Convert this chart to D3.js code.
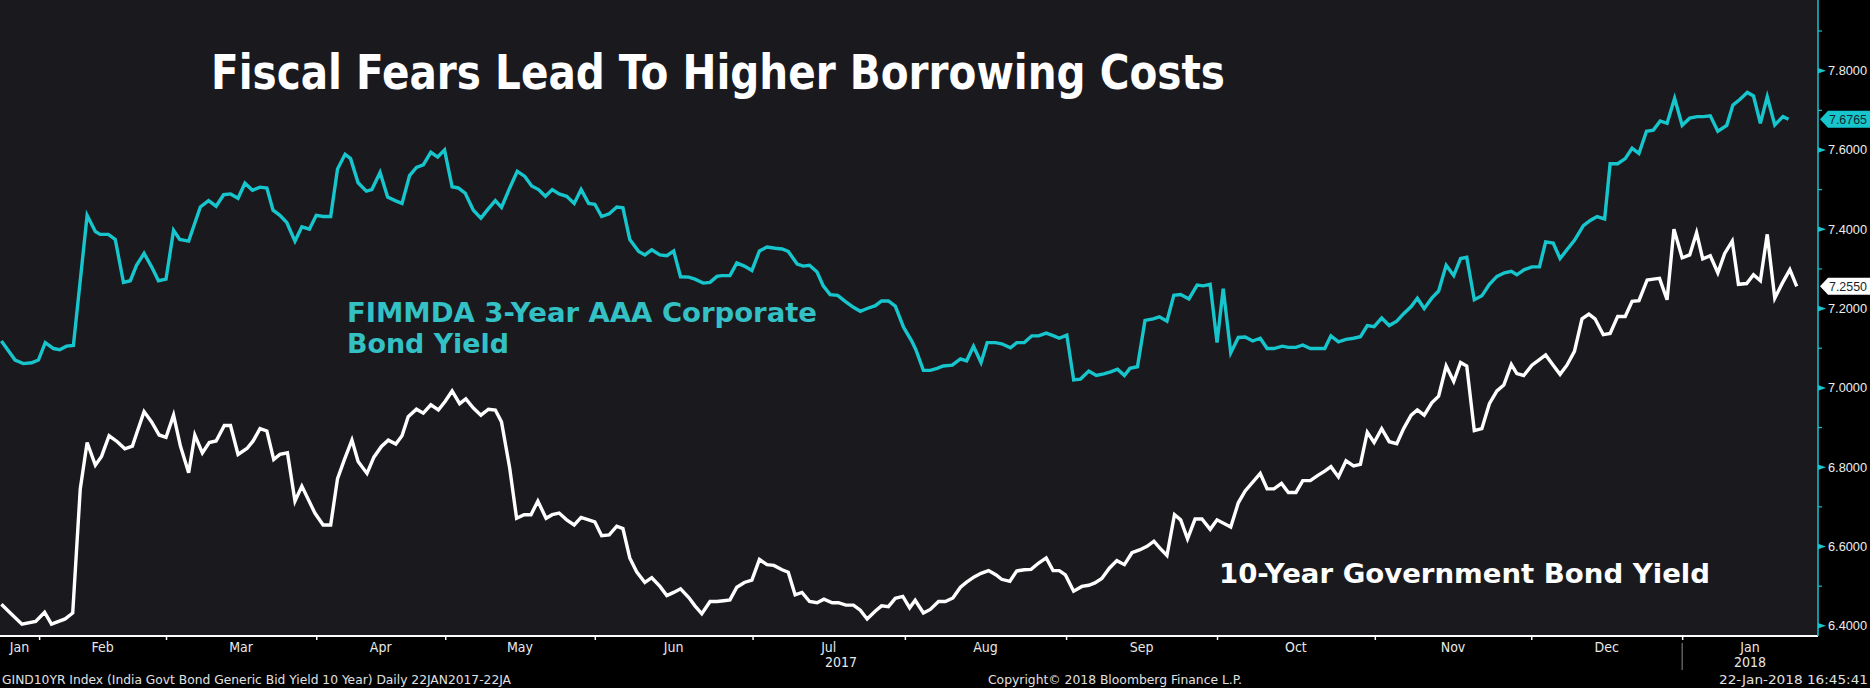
<!DOCTYPE html>
<html>
<head>
<meta charset="utf-8">
<script src="https://cdnjs.cloudflare.com/ajax/libs/d3/7.8.5/d3.min.js"></script>
<style>
  html, body { margin: 0; padding: 0; background: #000; }
  svg { display: block; }
</style>
</head>
<body>
<svg id="chart"></svg>
<script>
/* ===============================
   Data (trading-day index, yield %)
================================ */

// FIMMDA 3-Year AAA Corporate Bond Yield
const corpDays = [
  0.2, 2.2, 3.4, 4.6, 5.6, 6.6, 7.8, 8.7, 9.7, 10.7, 12.7, 13.9, 14.6, 15.8, 16.8, 18.0, 19.0, 19.9, 21.0, 22.1,
  23.1, 24.2, 25.3, 26.2, 27.5, 29.2, 30.4, 31.5, 32.6, 33.6, 34.7, 35.7, 36.8, 37.9, 38.9, 39.8, 40.8, 41.8, 43.0, 44.0,
  45.1, 46.1, 47.1, 48.2, 49.2, 50.3, 51.1, 52.2, 53.4, 54.2, 55.4, 56.5, 57.6, 58.6, 59.7, 60.7, 61.7, 62.8, 63.8, 64.8,
  65.9, 66.8, 67.8, 69.0, 70.1, 71.2, 72.2, 73.1, 74.3, 75.4, 76.5, 77.5, 78.5, 79.5, 80.5, 81.5, 82.6, 83.7, 84.7, 85.8,
  86.7, 87.7, 88.8, 89.9, 90.8, 91.8, 93.1, 94.0, 95.0, 96.2, 97.2, 98.2, 99.2, 100.4, 101.3, 102.5, 103.5, 104.5, 105.2, 106.4,
  107.4, 108.5, 109.6, 110.7, 111.8, 113.0, 114.0, 114.9, 116.2, 117.1, 118.0, 119.1, 120.0, 121.0, 122.1, 123.2, 124.4, 125.4, 126.4, 127.6,
  128.5, 129.5, 130.5, 131.7, 132.9, 133.5, 134.6, 135.6, 136.6, 137.5, 138.8, 140.0, 140.9, 141.9, 143.0, 143.9, 145.1, 146.0, 147.3, 148.2,
  149.3, 150.4, 151.4, 152.5, 153.6, 154.4, 155.5, 156.5, 157.5, 158.7, 159.8, 160.9, 161.9, 162.9, 163.9, 164.7, 165.8, 166.9, 168.1, 169.0,
  170.1, 171.1, 172.1, 173.3, 174.5, 175.4, 176.4, 177.4, 178.3, 179.4, 180.5, 181.5, 182.6, 183.7, 184.7, 185.7, 186.9, 187.8, 188.9, 189.9,
  191.0, 192.1, 193.1, 194.0, 195.1, 196.2, 197.3, 198.3, 199.3, 200.3, 201.4, 202.5, 203.6, 204.6, 205.7, 206.6, 207.6, 208.7, 209.7, 210.8,
  211.9, 212.9, 213.8, 214.9, 216.0, 217.1, 218.2, 219.3, 220.3, 221.1, 222.2, 223.3, 224.4, 225.3, 226.4, 227.4, 228.4, 229.5, 230.8, 231.8,
  232.8, 233.9, 234.7, 235.8, 236.9, 237.9, 238.9, 240.0, 241.0, 242.0, 243.0, 244.1, 245.2, 246.3, 247.4, 248.3, 249.3, 250.4, 251.7, 252.6,
  253.6, 254.7, 255.6, 256.6, 257.6, 258.7, 259.9, 260.7
];
const corpYield = [
  7.117, 7.069, 7.060, 7.062, 7.069, 7.113, 7.098, 7.095, 7.104, 7.106, 7.434, 7.393, 7.386, 7.386, 7.373, 7.265, 7.269, 7.308, 7.338, 7.304,
  7.269, 7.273, 7.396, 7.373, 7.369, 7.455, 7.471, 7.457, 7.486, 7.488, 7.477, 7.515, 7.497, 7.505, 7.503, 7.447, 7.434, 7.416, 7.369, 7.405,
  7.399, 7.434, 7.431, 7.431, 7.551, 7.588, 7.577, 7.516, 7.495, 7.499, 7.542, 7.480, 7.471, 7.464, 7.534, 7.555, 7.561, 7.593, 7.581, 7.599,
  7.506, 7.503, 7.490, 7.447, 7.427, 7.451, 7.471, 7.454, 7.503, 7.545, 7.532, 7.508, 7.499, 7.482, 7.499, 7.488, 7.482, 7.464, 7.499, 7.464,
  7.462, 7.431, 7.438, 7.455, 7.453, 7.373, 7.343, 7.334, 7.347, 7.334, 7.332, 7.344, 7.279, 7.278, 7.273, 7.263, 7.265, 7.280, 7.282, 7.282,
  7.314, 7.306, 7.295, 7.344, 7.354, 7.351, 7.349, 7.343, 7.311, 7.306, 7.308, 7.291, 7.256, 7.234, 7.232, 7.217, 7.202, 7.192, 7.199, 7.206,
  7.218, 7.218, 7.205, 7.152, 7.117, 7.095, 7.043, 7.043, 7.048, 7.054, 7.056, 7.072, 7.067, 7.104, 7.063, 7.113, 7.113, 7.110, 7.100, 7.113,
  7.113, 7.130, 7.130, 7.137, 7.130, 7.124, 7.132, 7.019, 7.021, 7.041, 7.030, 7.034, 7.039, 7.046, 7.030, 7.048, 7.052, 7.169, 7.173, 7.178,
  7.167, 7.232, 7.234, 7.223, 7.258, 7.256, 7.260, 7.113, 7.249, 7.087, 7.126, 7.127, 7.117, 7.124, 7.098, 7.098, 7.104, 7.101, 7.101, 7.107,
  7.098, 7.098, 7.098, 7.130, 7.115, 7.121, 7.124, 7.128, 7.156, 7.153, 7.175, 7.156, 7.167, 7.186, 7.204, 7.225, 7.199, 7.225, 7.243, 7.308,
  7.282, 7.325, 7.328, 7.221, 7.231, 7.260, 7.280, 7.289, 7.293, 7.284, 7.297, 7.304, 7.304, 7.367, 7.364, 7.325, 7.347, 7.371, 7.408, 7.421,
  7.431, 7.425, 7.564, 7.564, 7.577, 7.603, 7.590, 7.646, 7.649, 7.672, 7.666, 7.729, 7.661, 7.679, 7.683, 7.683, 7.685, 7.646, 7.661, 7.712,
  7.726, 7.744, 7.735, 7.666, 7.733, 7.662, 7.683, 7.6765
];

// India 10-Year Government Bond Yield
const govtDays = [
  0.2, 1.5, 3.2, 5.2, 6.5, 7.5, 9.5, 10.6, 11.7, 12.7, 13.9, 14.8, 15.9, 17.1, 18.2, 19.3, 19.9, 21.0, 22.1, 23.2,
  24.2, 25.3, 26.3, 27.5, 28.4, 29.5, 30.5, 31.5, 32.7, 33.6, 34.7, 36.0, 36.9, 37.9, 38.9, 39.9, 40.8, 41.9, 43.0, 44.0,
  45.9, 47.1, 48.2, 49.2, 50.2, 51.3, 52.2, 53.5, 54.5, 55.6, 56.6, 57.7, 58.6, 59.5, 60.7, 61.7, 62.8, 63.9, 64.9, 65.9,
  67.0, 67.9, 69.0, 70.1, 71.2, 72.2, 73.1, 74.3, 75.3, 76.4, 77.4, 78.4, 79.6, 80.5, 81.5, 82.6, 83.7, 84.7, 85.8, 86.7,
  87.7, 88.8, 89.9, 90.8, 91.8, 92.8, 94.0, 95.0, 96.2, 97.2, 98.2, 99.2, 100.4, 101.3, 102.3, 103.5, 104.5, 105.5, 106.4, 107.4,
  108.5, 109.6, 110.7, 111.8, 112.8, 114.0, 114.9, 115.9, 116.9, 118.0, 119.1, 120.1, 121.3, 122.2, 123.3, 124.4, 125.4, 126.4, 127.6, 128.5,
  129.5, 130.5, 131.6, 132.6, 133.4, 134.6, 135.6, 136.8, 137.8, 138.9, 140.0, 140.9, 142.0, 143.0, 144.1, 145.2, 146.0, 147.2, 148.2, 149.3,
  150.3, 151.4, 152.5, 153.5, 154.4, 155.3, 156.5, 157.7, 158.7, 159.6, 160.6, 161.7, 162.8, 163.9, 165.0, 166.1, 167.2, 168.2, 169.1, 170.1,
  171.2, 172.1, 173.1, 174.2, 175.2, 176.4, 177.4, 179.4, 180.5, 181.5, 183.7, 184.7, 185.7, 186.8, 187.8, 188.9, 189.9, 191.0, 192.1, 193.1,
  194.0, 195.1, 196.2, 197.3, 198.3, 199.3, 200.3, 201.4, 202.5, 203.6, 204.6, 205.7, 206.6, 207.6, 208.7, 209.7, 210.8, 211.9, 212.9, 213.8,
  214.9, 216.0, 217.1, 218.2, 219.2, 220.3, 221.1, 222.1, 223.3, 224.3, 225.3, 226.4, 227.4, 228.4, 229.5, 230.6, 231.6, 232.5, 233.7, 234.7,
  235.8, 236.9, 237.9, 238.9, 240.1, 241.0, 241.9, 243.0, 244.0, 245.2, 246.3, 247.3, 248.2, 249.3, 250.4, 251.4, 252.5, 253.4, 254.6, 255.6,
  256.6, 257.6, 258.7, 259.8, 260.9, 261.9
];
const govtYield = [
  6.453, 6.431, 6.403, 6.410, 6.433, 6.403, 6.416, 6.431, 6.744, 6.861, 6.804, 6.826, 6.878, 6.863, 6.845, 6.852, 6.883, 6.939, 6.913, 6.880,
  6.874, 6.930, 6.852, 6.785, 6.880, 6.835, 6.861, 6.865, 6.904, 6.904, 6.831, 6.846, 6.865, 6.896, 6.890, 6.818, 6.831, 6.835, 6.713, 6.751,
  6.683, 6.653, 6.653, 6.770, 6.818, 6.867, 6.813, 6.783, 6.824, 6.851, 6.867, 6.857, 6.878, 6.926, 6.945, 6.935, 6.956, 6.943, 6.965, 6.991,
  6.959, 6.971, 6.948, 6.930, 6.945, 6.943, 6.913, 6.796, 6.670, 6.679, 6.679, 6.713, 6.670, 6.679, 6.683, 6.666, 6.653, 6.672, 6.666, 6.661,
  6.626, 6.628, 6.650, 6.644, 6.570, 6.535, 6.508, 6.520, 6.498, 6.475, 6.483, 6.492, 6.470, 6.449, 6.429, 6.460, 6.460, 6.462, 6.464, 6.496,
  6.508, 6.514, 6.566, 6.553, 6.551, 6.540, 6.534, 6.477, 6.483, 6.460, 6.457, 6.466, 6.457, 6.457, 6.451, 6.451, 6.438, 6.416, 6.436, 6.449,
  6.447, 6.468, 6.473, 6.444, 6.463, 6.431, 6.440, 6.460, 6.460, 6.469, 6.496, 6.509, 6.522, 6.531, 6.538, 6.527, 6.516, 6.511, 6.537, 6.540,
  6.541, 6.557, 6.570, 6.538, 6.538, 6.527, 6.486, 6.498, 6.501, 6.507, 6.518, 6.544, 6.563, 6.553, 6.583, 6.590, 6.599, 6.612, 6.594, 6.576,
  6.679, 6.666, 6.618, 6.668, 6.668, 6.642, 6.666, 6.648, 6.709, 6.739, 6.783, 6.744, 6.744, 6.758, 6.735, 6.735, 6.765, 6.765, 6.778, 6.789,
  6.800, 6.774, 6.815, 6.802, 6.806, 6.887, 6.861, 6.896, 6.863, 6.858, 6.896, 6.930, 6.943, 6.930, 6.961, 6.978, 7.054, 7.015, 7.063, 7.054,
  6.891, 6.896, 6.959, 6.991, 7.006, 7.058, 7.035, 7.030, 7.056, 7.069, 7.082, 7.056, 7.033, 7.056, 7.091, 7.173, 7.185, 7.173, 7.133, 7.136,
  7.179, 7.179, 7.217, 7.219, 7.271, 7.273, 7.275, 7.221, 7.399, 7.327, 7.334, 7.390, 7.324, 7.332, 7.289, 7.338, 7.369, 7.260, 7.262, 7.284,
  7.269, 7.386, 7.225, 7.263, 7.297, 7.255
];

// x axis: month boundaries (trading-day index) and labels
const monthStarts = [5.7, 24.2, 46.1, 64.9, 86.7, 109.7, 131.9, 155.4, 177.4, 200.4, 223.2, 245.2];
const monthLabels = ["Jan", "Feb", "Mar", "Apr", "May", "Jun", "Jul", "Aug", "Sep", "Oct", "Nov", "Dec", "Jan"];
const yearLabels = ["2017", "2018"];
const dayDomain = [0, 265];

// y axis
const yMajorTicks = [6.4, 6.6, 6.8, 7.0, 7.2, 7.4, 7.6, 7.8];
const yMinorTicks = [6.5, 6.7, 6.9, 7.1, 7.3, 7.5, 7.7, 7.9];

const lastCorp = corpYield[corpYield.length - 1];
const lastGovt = govtYield[govtYield.length - 1];

/* ===============================
   Layout & colours
================================ */

const W = 1870, H = 688;
const plotW = 1818, plotH = 636;
const TEAL = "#17c5cd";
const TEAL_TEXT = "#33c1c6";
const PLOT_BG = "#1a1a1e";
const NARROW = "'Liberation Sans Narrow', 'DejaVu Sans Condensed', sans-serif";
const PLAIN = "'Liberation Sans', Arial, sans-serif";
const BOLD = "'DejaVu Sans', Verdana, sans-serif";
const BOLD_CONDENSED = "'DejaVu Sans Condensed', 'DejaVu Sans', sans-serif";

const svg = d3.select("#chart")
  .attr("width", W)
  .attr("height", H)
  .style("background", "#000");

const x = d3.scaleLinear().domain(dayDomain).range([0, plotW]);
const y = d3.scaleLinear().domain([6.4, 7.8]).range([625.3, 70.2]);

svg.append("rect")
  .attr("width", plotW)
  .attr("height", plotH)
  .attr("fill", PLOT_BG);

svg.append("clipPath").attr("id", "plotClip")
  .append("rect").attr("width", plotW).attr("height", plotH);

/* -------- TITLE & ANNOTATIONS -------- */

svg.append("text")
  .attr("x", 211).attr("y", 89)
  .attr("font-family", BOLD_CONDENSED)
  .attr("font-weight", "bold")
  .attr("font-size", 48)
  .attr("fill", "#ffffff")
  .attr("textLength", 1014)
  .attr("lengthAdjust", "spacingAndGlyphs")
  .text("Fiscal Fears Lead To Higher Borrowing Costs");

const corpNote = svg.append("g")
  .attr("font-family", BOLD)
  .attr("font-weight", "bold")
  .attr("font-size", 26)
  .attr("fill", TEAL_TEXT);

corpNote.append("text")
  .attr("x", 347).attr("y", 322)
  .attr("textLength", 470).attr("lengthAdjust", "spacingAndGlyphs")
  .text("FIMMDA 3-Year AAA Corporate");

corpNote.append("text")
  .attr("x", 347).attr("y", 353)
  .attr("textLength", 162).attr("lengthAdjust", "spacingAndGlyphs")
  .text("Bond Yield");

svg.append("text")
  .attr("x", 1219).attr("y", 583)
  .attr("font-family", BOLD)
  .attr("font-weight", "bold")
  .attr("font-size", 27)
  .attr("fill", "#ffffff")
  .attr("textLength", 491).attr("lengthAdjust", "spacingAndGlyphs")
  .text("10-Year Government Bond Yield");

/* -------- LINES -------- */

const line = d3.line()
  .x(d => x(d[0]))
  .y(d => y(d[1]));

const lines = svg.append("g").attr("clip-path", "url(#plotClip)");

lines.append("path")
  .datum(d3.zip(govtDays, govtYield))
  .attr("d", line)
  .attr("fill", "none")
  .attr("stroke", "#ffffff")
  .attr("stroke-width", 3.4)
  .attr("stroke-linejoin", "miter");

lines.append("path")
  .datum(d3.zip(corpDays, corpYield))
  .attr("d", line)
  .attr("fill", "none")
  .attr("stroke", TEAL)
  .attr("stroke-width", 3.4)
  .attr("stroke-linejoin", "miter");

/* -------- X AXIS -------- */

const xAxis = svg.append("g")
  .attr("transform", `translate(0,${plotH})`)
  .call(d3.axisBottom(x).tickValues(monthStarts).tickSize(4).tickSizeOuter(0).tickFormat(""));

xAxis.select(".domain").attr("stroke", "#ffffff").attr("stroke-width", 2)
  .attr("d", `M0,0H${plotW}`);
xAxis.selectAll(".tick line").attr("stroke", "#ffffff").attr("stroke-width", 1.5);

const bounds = [dayDomain[0], ...monthStarts, dayDomain[1]];

svg.append("g")
  .attr("font-family", NARROW)
  .attr("font-size", 14)
  .attr("fill", "#e8e8e8")
  .attr("text-anchor", "middle")
  .selectAll("text")
  .data(monthLabels)
  .join("text")
  .attr("x", (d, i) => x((bounds[i] + bounds[i + 1]) / 2))
  .attr("y", 652)
  .text(d => d);

const yearBreak = monthStarts[monthStarts.length - 1];

svg.append("g")
  .attr("font-family", NARROW)
  .attr("font-size", 14)
  .attr("fill", "#e8e8e8")
  .attr("text-anchor", "middle")
  .selectAll("text")
  .data(yearLabels)
  .join("text")
  .attr("x", (d, i) => i === 0 ? x(yearBreak) / 2 : (x(yearBreak) + plotW) / 2)
  .attr("y", 667)
  .text(d => d);

svg.append("line")
  .attr("x1", x(yearBreak)).attr("x2", x(yearBreak))
  .attr("y1", 643).attr("y2", 670)
  .attr("stroke", "#8a8a8a").attr("stroke-width", 1);

/* -------- Y AXIS (right) -------- */

const yAxis = svg.append("g")
  .attr("transform", `translate(${plotW},0)`)
  .call(d3.axisRight(y).tickValues(yMajorTicks).tickSize(0).tickPadding(10)
    .tickFormat(d3.format(".4f")));

yAxis.select(".domain").attr("stroke", TEAL).attr("stroke-width", 1.5)
  .attr("d", `M0,0V${plotH}`);
yAxis.selectAll(".tick text")
  .attr("font-family", PLAIN)
  .attr("font-size", 13.5)
  .attr("fill", "#eeeeee")
  .attr("textLength", 39)
  .attr("lengthAdjust", "spacingAndGlyphs");
yAxis.selectAll(".tick").append("path")
  .attr("d", "M0,-2.8L8,0L0,2.8Z")
  .attr("fill", TEAL);

const yMinor = svg.append("g")
  .attr("transform", `translate(${plotW},0)`)
  .call(d3.axisRight(y).tickValues(yMinorTicks).tickSize(4).tickFormat(""));
yMinor.select(".domain").remove();
yMinor.selectAll(".tick line").attr("stroke", TEAL).attr("stroke-width", 1.2);

/* -------- LAST VALUE TAGS -------- */

function valueTag(value, fill) {
  const cy = y(value);
  const tag = svg.append("g").attr("transform", `translate(${plotW + 2},${cy})`);
  tag.append("path")
    .attr("d", "M0,0L8,-8.5H52V8.5H8Z")
    .attr("fill", fill);
  tag.append("text")
    .attr("x", 9).attr("y", 5)
    .attr("font-family", PLAIN)
    .attr("font-size", 13.5)
    .attr("fill", "#15252a")
    .attr("textLength", 38)
    .attr("lengthAdjust", "spacingAndGlyphs")
    .text(d3.format(".4f")(value));
}

valueTag(lastCorp, TEAL);
valueTag(lastGovt, "#ffffff");

/* -------- FOOTER -------- */

const footer = svg.append("g")
  .attr("font-family", NARROW)
  .attr("font-size", 13)
  .attr("fill", "#e0e0e0");

footer.append("text")
  .attr("x", 2).attr("y", 684)
  .attr("textLength", 509).attr("lengthAdjust", "spacingAndGlyphs")
  .text("GIND10YR Index (India Govt Bond Generic Bid Yield 10 Year)  Daily 22JAN2017-22JA");

footer.append("text")
  .attr("x", 988).attr("y", 684)
  .attr("textLength", 254).attr("lengthAdjust", "spacingAndGlyphs")
  .text("Copyright\u00a9 2018 Bloomberg Finance L.P.");

footer.append("text")
  .attr("x", 1719).attr("y", 684)
  .attr("textLength", 149).attr("lengthAdjust", "spacingAndGlyphs")
  .text("22-Jan-2018 16:45:41");
</script>
</body>
</html>
